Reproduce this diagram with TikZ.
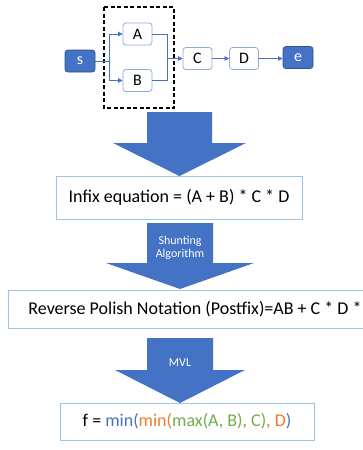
\documentclass[tikz,border=0pt]{standalone}
\usepackage{fontspec}
\setmainfont{Carlito}
\usetikzlibrary{arrows.meta}
\definecolor{mblue}{RGB}{68,114,196}
\definecolor{dblue}{RGB}{47,82,143}
\definecolor{lblue}{RGB}{143,170,220}
\definecolor{bblue}{RGB}{157,195,230}
\definecolor{morange}{RGB}{237,125,49}
\definecolor{mgreen}{RGB}{112,173,71}
\begin{document}
\begin{tikzpicture}[x=1pt,y=-1pt,
  smallbox/.style={draw=lblue,line width=0.8pt,fill=white,rounded corners=3pt,minimum width=29pt,minimum height=22pt,inner sep=0pt,font=\fontsize{16}{18}\selectfont},
  endbox/.style={draw=dblue,line width=0.8pt,fill=mblue,text=white,rounded corners=3pt,minimum width=30pt,minimum height=22pt,inner sep=0pt,font=\fontsize{16}{18}\selectfont},
  conn/.style={draw=mblue,line width=0.7pt},
  tip/.style={-{Triangle[length=4.5pt,width=4.5pt]}},
  bigbox/.style={draw=bblue,line width=1pt,fill=white,inner sep=0pt,font=\fontsize{18}{20}\selectfont},
  bigarrow/.style={fill=mblue},
  arrowtext/.style={text=white,font=\fontsize{12}{14}\selectfont,align=center}
]
\useasboundingbox (0,0) rectangle (363,450);
\fill[white] (0,0) rectangle (363,450);

% top graph
\draw[dashed,line width=1.2pt,dash pattern=on 4pt off 2.5pt] (104,7) rectangle (174,108);
\node[endbox] (s) at (80,61) {s};
\node[smallbox] (A) at (137.5,34) {A};
\node[smallbox] (B) at (137.5,80.5) {B};
\node[smallbox] (C) at (197.5,58.5) {C};
\node[smallbox] (D) at (244,58.5) {D};
\node[endbox] (e) at (298,57.5) {e};
\coordinate (j) at (109,61);
\coordinate (m) at (167,58.5);
\draw[conn] (s.east) -- (j);
\draw[conn,tip] (j) |- (A.west);
\draw[conn,tip] (j) |- (B.west);
\draw[conn] (A.east) -| (m);
\draw[conn] (B.east) -| (m);
\draw[conn,tip] (m) -- (C.west);
\draw[conn,tip] (C.east) -- (D.west);
\draw[conn,tip] (D.east) -- (e.west |- D.east);

% big arrow 1
\fill[bigarrow] (147,112) -- (212,112) -- (212,143) -- (246,143) -- (179.5,176) -- (113,143) -- (147,143) -- cycle;

% infix box
\node[bigbox,minimum width=246pt,minimum height=43pt] (infix) at (179,197.5) {Infix equation = (A + B) * C * D};

% big arrow 2
\fill[bigarrow] (147,223) -- (213,223) -- (213,263) -- (254,263) -- (180,289) -- (106,263) -- (147,263) -- cycle;
\node[arrowtext] (shunt) at (180,248) {Shunting\\[-1pt]Algorithm};

% rpn box
\node[bigbox,minimum width=374pt,minimum height=38pt] (rpn) at (195,309) {Reverse Polish Notation (Postfix)=AB + C * D *};

% big arrow 3
\fill[bigarrow] (147,338) -- (213,338) -- (213,370) -- (245,370) -- (180,403) -- (115,370) -- (147,370) -- cycle;
\node[arrowtext] (mvl) at (180,363) {MVL};

% f box
\node[bigbox,minimum width=254pt,minimum height=37pt] (fbox) at (187,421.5) {f = \textcolor{mblue}{min(}\textcolor{morange}{min(}\textcolor{mgreen}{max(A, B), C)}\textcolor{morange}{, D}\textcolor{mblue}{)}};
\end{tikzpicture}
\end{document}
